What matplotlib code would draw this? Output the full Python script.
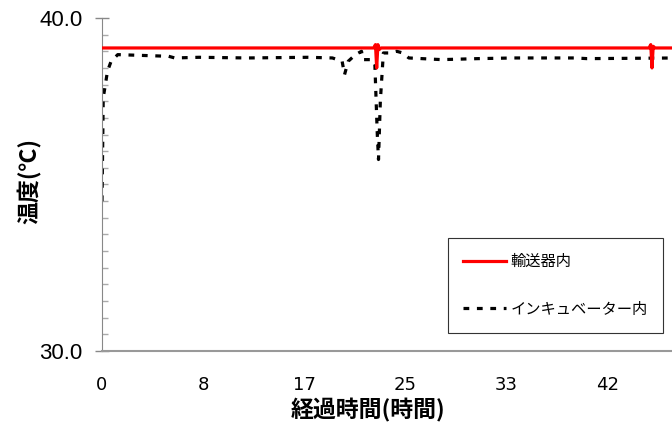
import numpy as np
import matplotlib
matplotlib.use('Agg')
from matplotlib import pyplot as plt
from matplotlib.ticker import MultipleLocator, FixedLocator

# Data (hours, deg C)
red_t = [0.0, 5.0, 10.0, 15.0, 20.0, 22.4, 22.55, 22.65, 22.75, 22.85, 23.0, 30.0,
         38.0, 45.1, 45.25, 45.35, 45.45, 45.6, 47.5]
red_v = [39.1, 39.1, 39.1, 39.1, 39.1, 39.1, 39.2, 38.5, 39.2, 39.05, 39.1, 39.1,
         39.1, 39.1, 39.2, 38.5, 39.15, 39.1, 39.1]

blk_t = [0.0, 0.05, 0.1, 0.3, 0.45, 0.75, 1.3, 3.0, 5.5, 6.0, 8.0, 12.0, 17.0,
         19.0, 19.8, 20.0, 20.3, 20.9, 21.4, 21.5, 22.3, 22.5, 22.7, 22.8, 22.95,
         23.2, 23.6, 24.3, 24.8, 25.3, 28.0, 31.0, 34.0, 39.0, 40.0, 47.5]
blk_v = [34.5, 36.0, 37.6, 38.05, 38.4, 38.7, 38.9, 38.88, 38.85, 38.8, 38.82,
         38.8, 38.82, 38.8, 38.7, 38.3, 38.7, 38.9, 39.0, 38.75, 38.75, 38.6,
         36.5, 35.75, 37.5, 38.95, 38.95, 39.0, 38.95, 38.8, 38.75, 38.78,
         38.8, 38.8, 38.78, 38.8]

xtick_pos = [0, 8.333, 16.667, 25.0, 33.333, 41.667]
xtick_lab = ['0', '8', '17', '25', '33', '42']

jp = ['Noto Sans CJK JP', 'DejaVu Sans']

fig = plt.figure(figsize=(6.72, 4.25), dpi=100)
ax = fig.add_axes([102/672, 74/425, 570/672, 333/425])

ax.plot(red_t, red_v, color='#ff0000', lw=2.3, label='輸送器内', zorder=3)
ax.plot(blk_t, blk_v, color='black', lw=2.3, linestyle=(0, (1.8, 2.4)),
        label='インキュベーター内', zorder=2)

ax.set_xlim(0, 47.0)
ax.set_ylim(30, 40)

ax.set_yticks([30, 40])
ax.set_yticklabels(['30.0', '40.0'], family=['Liberation Sans', 'DejaVu Sans'], fontsize=16)
ax.yaxis.set_minor_locator(MultipleLocator(0.5))
ax.tick_params(axis='y', which='major', direction='inout', length=10, width=1,
               color='#888888', pad=9)
ax.tick_params(axis='y', which='minor', direction='in', length=4.3, width=1,
               color='#aaaaaa')

ax.set_xticks(xtick_pos)
ax.set_xticklabels(xtick_lab, family=['Liberation Sans Narrow', 'DejaVu Sans'], fontsize=13)
ax.tick_params(axis='x', length=0, pad=18)

for s in ['top', 'right']:
    ax.spines[s].set_visible(False)
ax.spines['left'].set_color('#888888')
ax.spines['bottom'].set_color('#999999')
ax.spines['bottom'].set_linewidth(1.5)

fig.text(368/672, 1 - 410/425, '経過時間(時間)', family=jp, fontweight='bold',
         fontsize=16.5, ha='center', va='center')
fig.text(30/672, 1 - 181/425, '温度(℃)', family=jp, fontweight='bold',
         fontsize=16.5, ha='center', va='center', rotation=90)

leg = fig.legend(loc='upper left', bbox_to_anchor=(448/672, 1 - 238/425),
                 borderaxespad=0, borderpad=1.0, handlelength=2.8,
                 handletextpad=0.3, labelspacing=2.0, fancybox=False,
                 framealpha=1, edgecolor='#333333', prop={'family': jp, 'size': 11})
leg.get_frame().set_linewidth(0.8)

fig.savefig('out.png', dpi=100)
